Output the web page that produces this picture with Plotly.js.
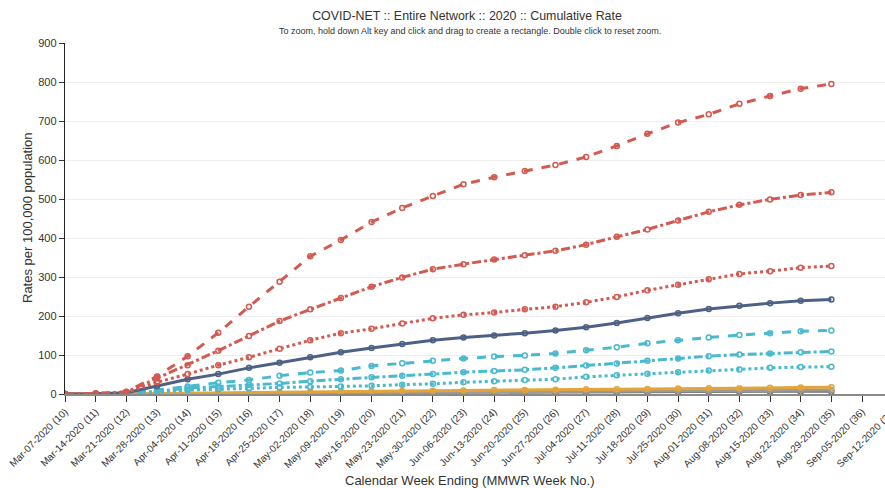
<!DOCTYPE html>
<html>
<head>
<meta charset="utf-8">
<script src="https://cdn.plot.ly/plotly-3.0.1.min.js"></script>
<style>
html,body{margin:0;padding:0;overflow:hidden;background:#fff;}
#chart{width:920px;height:488px;}
</style>
</head>
<body>
<div id="chart"></div>
<script>
// Week-ending categories (MMWR week numbers 10-37)
const weeks = [
  "Mar-07-2020 (10)","Mar-14-2020 (11)","Mar-21-2020 (12)","Mar-28-2020 (13)",
  "Apr-04-2020 (14)","Apr-11-2020 (15)","Apr-18-2020 (16)","Apr-25-2020 (17)",
  "May-02-2020 (18)","May-09-2020 (19)","May-16-2020 (20)","May-23-2020 (21)",
  "May-30-2020 (22)","Jun-06-2020 (23)","Jun-13-2020 (24)","Jun-20-2020 (25)",
  "Jun-27-2020 (26)","Jul-04-2020 (27)","Jul-11-2020 (28)","Jul-18-2020 (29)",
  "Jul-25-2020 (30)","Aug-01-2020 (31)","Aug-08-2020 (32)","Aug-15-2020 (33)",
  "Aug-22-2020 (34)","Aug-29-2020 (35)","Sep-05-2020 (36)","Sep-12-2020 (37)"
];
const dataWeeks = weeks.slice(0, 26);

// Cumulative rates per 100,000
const age85plus = [0,1,6,45,97,157,224,288,353,395,441,477,508,538,556,572,587,608,636,667,696,717,744,764,783,795];
const age75to84 = [0,1,5,40,74,111,149,187,217,246,275,299,320,333,345,356,367,383,403,422,445,467,485,499,510,517];
const age65to74 = [0,1,4,30,51,74,94,116,138,156,167,181,194,203,209,217,224,235,249,266,280,294,308,315,324,328];
const overall   = [0,0.5,3,20,38,51,67,80,94,107,118,128,138,145,150,156,163,171,182,195,207,218,226,233,239,242];
const age50to64 = [0,0.3,2,10,19,29,36,47,55,60,72,79,85,91,96,99,104,112,120,130,138,145,151,156,161,163];
const age18to49 = [0,0.2,1.5,7,15,19,23,27,33,38,43,47,51,56,59,62,67,73,78,85,91,97,101,104,107,109];
const age5to17  = [0,0.1,1,5,10,12,15,17,18,19,21,24,26,30,33,36,38,44,48,52,56,60,63,67,69,70];
const ageA      = [0,0,0.3,1,2,3,4,5,6,6.5,7,8,8.5,9,10,10.5,11,12,12.5,13,14,14.5,15,16,16.5,17];
const ageB      = [0,0,0.2,0.6,1,1.5,2,2.5,3,3.5,4,4.5,5,5.5,6,6.5,7,7.5,8,8.5,9,9,9.5,9.5,10,10];
const ageC      = [0,0,0.1,0.3,0.6,1,1.3,1.6,2,2.3,2.6,3,3.3,3.6,4,4.2,4.5,4.8,5,5.2,5.4,5.6,5.8,5.9,6,6];

const RED = "#d35a50", NAVY = "#4e6184", TEAL = "#49b9cf", ORANGE = "#e3a43a", GRAY = "#9a9a9a", DGRAY = "#6f6f6f";

function series(name, y, color, dash, width) {
  return {
    type: "scatter", mode: "lines+markers", name: name,
    x: dataWeeks, y: y,
    line: {color: color, width: width || 3, dash: dash},
    marker: {symbol: "circle-open", size: 5, color: color, line: {width: 1.5, color: color}},
    showlegend: false, hoverinfo: "x+y+name"
  };
}

const traces = [
  {type: "scatter", mode: "lines", x: weeks, y: weeks.map(() => null), showlegend: false, hoverinfo: "skip"},
  series("Overall (C)", ageC, DGRAY, "solid", 2),
  series("Overall (B)", ageB, GRAY, "solid", 3),
  series("Overall (A)", ageA, ORANGE, "solid", 3),
  series("5-17 yr", age5to17, TEAL, "dot"),
  series("18-49 yr", age18to49, TEAL, "dashdot"),
  series("50-64 yr", age50to64, TEAL, "dash"),
  series("Overall", overall, NAVY, "solid"),
  series("65-74 yr", age65to74, RED, "dot"),
  series("75-84 yr", age75to84, RED, "dashdot"),
  series("85+ yr", age85plus, RED, "dash")
];

const FONT = "Liberation Sans, Arial, sans-serif";

const layout = {
  width: 920, height: 488,
  margin: {l: 65, r: 12, t: 43, b: 94},
  paper_bgcolor: "#fff", plot_bgcolor: "#fff",
  font: {family: FONT, color: "#333"},
  showlegend: false,
  title: {
    text: "COVID-NET :: Entire Network :: 2020 :: Cumulative Rate",
    font: {family: FONT, size: 12.4, color: "#333"},
    xref: "container", x: 467/920, xanchor: "center",
    yref: "container", y: 1 - 16/488, yanchor: "middle"
  },
  xaxis: {
    type: "category",
    categoryorder: "array", categoryarray: weeks,
    tickvals: weeks, ticktext: weeks,
    range: [0, 27.5],
    tickangle: -45,
    tickfont: {family: FONT, size: 10, color: "#333"},
    ticks: "outside", ticklen: 6, tickcolor: "#333", tickwidth: 1,
    showline: true, linecolor: "#8a8a8a", linewidth: 2,
    showgrid: false, zeroline: false, fixedrange: true
  },
  yaxis: {
    range: [0, 900], dtick: 100, tick0: 0,
    tickfont: {family: FONT, size: 11, color: "#333"},
    ticks: "outside", ticklen: 5, tickcolor: "#333", tickwidth: 1,
    showline: true, linecolor: "#222", linewidth: 1.3,
    showgrid: true, gridcolor: "#eeeeee", gridwidth: 1,
    zeroline: false, fixedrange: true
  },
  annotations: [
    {
      text: "To zoom, hold down Alt key and click and drag to create a rectangle. Double click to reset zoom.",
      xref: "paper", yref: "paper", x: (470-65)/843, y: 1 + (43-31)/351,
      xanchor: "center", yanchor: "middle", showarrow: false,
      font: {family: FONT, size: 9, color: "#333"}
    },
    {
      text: "Calendar Week Ending (MMWR Week No.)",
      xref: "paper", yref: "paper", x: (470-65)/843, y: -(480-394)/351,
      xanchor: "center", yanchor: "middle", showarrow: false,
      font: {family: FONT, size: 13, color: "#333"}
    },
    {
      text: "Rates per 100,000 population",
      xref: "paper", yref: "paper", x: -(65-27)/843, y: (394-218)/351,
      xanchor: "center", yanchor: "middle", showarrow: false, textangle: -90,
      font: {family: FONT, size: 13, color: "#333"}
    }
  ]
};

Plotly.newPlot("chart", traces, layout, {displayModeBar: false, staticPlot: true});
</script>
</body>
</html>
